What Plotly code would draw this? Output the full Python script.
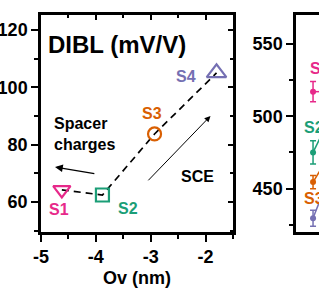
import plotly.graph_objects as go

# ---- data (left panel: DIBL vs Ov) ----
samples = ["S1", "S2", "S3", "S4"]
ov_nm = [-4.62, -3.88, -2.93, -1.80]
dibl = [64.2, 62.4, 83.7, 105.0]
colors = ["#e7298a", "#1b9e77", "#d95f02", "#7570b3"]
symbols = ["triangle-down-open", "square-open", "circle-open", "triangle-up-open"]
marker_sizes = [15, 13, 13, 17]
x_ticks = [-5, -4, -3, -2]
y_ticks = [60, 80, 100, 120]

# ---- data (right panel, cropped) ----
right_x = [1, 2]
right_vals = {
    "S1": [517, 517],
    "S2": [475, 499],
    "S3": [454.5, 474],
    "S4": [429.5, 460],
}
right_err = {"S1": 7, "S2": 8, "S3": 4.6, "S4": 5.5}
right_ticks = [450, 500, 550]

FONT = "Arial, Liberation Sans, sans-serif"

fig = go.Figure()

# dashed connecting line
fig.add_trace(go.Scatter(x=ov_nm, y=dibl, mode="lines",
                         line=dict(color="black", width=1.7, dash="7px,5px"),
                         showlegend=False, hoverinfo="skip"))
for s, xv, yv, c, sym, ms in zip(samples, ov_nm, dibl, colors, symbols, marker_sizes):
    fig.add_trace(go.Scatter(x=[xv], y=[yv], mode="markers",
                             marker=dict(symbol=sym, size=ms, color=c,
                                         line=dict(color=c, width=2.2)),
                             showlegend=False))

# right panel traces
for s, c in zip(samples, colors):
    vals = right_vals[s]
    fig.add_trace(go.Scatter(x=right_x, y=vals, mode="lines+markers",
                             xaxis="x2", yaxis="y2",
                             marker=dict(size=6, color=c),
                             line=dict(color=c, width=1.5),
                             error_y=dict(type="constant", value=right_err[s],
                                          color=c, thickness=1.5, width=3),
                             cliponaxis=True, showlegend=False))

# dummy trace for mirrored inside ticks
fig.add_trace(go.Scatter(x=[None], y=[None], xaxis="x3", yaxis="y3",
                         showlegend=False, hoverinfo="skip"))

xr = [-5, -1.5]
yr = [49.5, 125.2]
axis_font = dict(family=FONT, size=18, color="black", weight="bold")

fig.update_layout(
    width=319, height=296,
    margin=dict(l=41, r=0, t=15, b=64),
    paper_bgcolor="white", plot_bgcolor="white",
    font=dict(family=FONT, color="black"),
    xaxis=dict(domain=[0, 0.6906], range=xr, tickvals=x_ticks,
               ticktext=[str(v) for v in x_ticks], automargin=False,
               showline=True, linewidth=2.5, linecolor="black", mirror=True,
               ticks="outside", ticklen=7, tickwidth=2, tickcolor="black",
               minor=dict(dtick=0.5, ticks="outside", ticklen=4, tickwidth=2, tickcolor="black"),
               showgrid=False, zeroline=False, tickfont=axis_font,
               title=dict(text="Ov (nm)", font=dict(family=FONT, size=18, weight="bold"), standoff=6)),
    yaxis=dict(range=yr, tickvals=y_ticks, automargin=False,
               showline=True, linewidth=2.5, linecolor="black", mirror=True,
               ticks="outside", ticklen=7, tickwidth=2, tickcolor="black",
               minor=dict(dtick=10, ticks="outside", ticklen=4, tickwidth=2, tickcolor="black"),
               showgrid=False, zeroline=False, tickfont=axis_font),
    xaxis3=dict(overlaying="x", side="top", anchor="y", range=xr, tickvals=x_ticks,
                showticklabels=False, ticks="inside", ticklen=5, tickwidth=2, tickcolor="black",
                minor=dict(dtick=0.5, ticks="inside", ticklen=3, tickwidth=2, tickcolor="black"),
                showline=False, showgrid=False, zeroline=False, automargin=False),
    yaxis3=dict(overlaying="y", side="right", anchor="x", range=yr, tickvals=y_ticks,
                showticklabels=False, ticks="inside", ticklen=5, tickwidth=2, tickcolor="black",
                minor=dict(dtick=10, ticks="inside", ticklen=3, tickwidth=2, tickcolor="black"),
                showline=False, showgrid=False, zeroline=False, automargin=False),
    xaxis2=dict(domain=[0.9173, 1], range=[0, 1.35], anchor="y2", automargin=False,
                showline=True, linewidth=2.5, linecolor="black", mirror=True,
                showticklabels=False, ticks="", showgrid=False, zeroline=False),
    yaxis2=dict(range=[420, 570], anchor="x2", tickvals=right_ticks, automargin=False,
                showline=True, linewidth=2.5, linecolor="black",
                ticks="outside", ticklen=7, tickwidth=2, tickcolor="black",
                minor=dict(dtick=25, ticks="outside", ticklen=4, tickwidth=2, tickcolor="black"),
                showgrid=False, zeroline=False, tickfont=axis_font),
)

ann = []
ann.append(dict(x=-4.91, y=114.8, xref="x", yref="y", text="<b>DIBL (mV/V)</b>",
                showarrow=False, xanchor="left", yanchor="middle",
                font=dict(family=FONT, size=24, color="black")))
ann.append(dict(x=-4.8, y=83.7, xref="x", yref="y", text="<b>Spacer<br>charges</b>",
                showarrow=False, xanchor="left", yanchor="middle", align="left",
                font=dict(family=FONT, size=16, color="black")))
ann.append(dict(x=-2.145, y=68.7, xref="x", yref="y", text="<b>SCE</b>",
                showarrow=False, xanchor="center", yanchor="middle",
                font=dict(family=FONT, size=16, color="black")))
label_pos = [(-4.67, 57.2), (-3.42, 57.6), (-2.98, 91.0), (-2.35, 103.6)]
for s, (lx, ly), c in zip(samples, label_pos, colors):
    ann.append(dict(x=lx, y=ly, xref="x", yref="y", text=f"<b>{s}</b>",
                    showarrow=False, xanchor="center", yanchor="middle",
                    font=dict(family=FONT, size=16, color=c)))
# arrows
ann.append(dict(x=-4.745, y=72.2, ax=-4.0, ay=69.8, xref="x", yref="y", axref="x", ayref="y",
                text="", showarrow=True, arrowhead=2, arrowsize=1.2, arrowwidth=1.3, arrowcolor="black"))
ann.append(dict(x=-1.91, y=90.0, ax=-3.07, ay=67.0, xref="x", yref="y", axref="x", ayref="y",
                text="", showarrow=True, arrowhead=2, arrowsize=1.2, arrowwidth=1.0, arrowcolor="black"))
# right panel labels
right_labels = [("S1", 0.7, 533, colors[0]), ("S2", 0.35, 492, colors[1]), ("S3", 0.35, 443, colors[2])]
for s, lx, ly, c in right_labels:
    ann.append(dict(x=lx, y=ly, xref="x2", yref="y2", text=f"<b>{s}</b>",
                    showarrow=False, xanchor="left", yanchor="middle",
                    font=dict(family=FONT, size=16, color=c)))
fig.update_layout(annotations=ann)

fig.write_html("out.html", config={"displayModeBar": False},
               post_script="document.body.style.margin='0';document.body.style.padding='0';")
